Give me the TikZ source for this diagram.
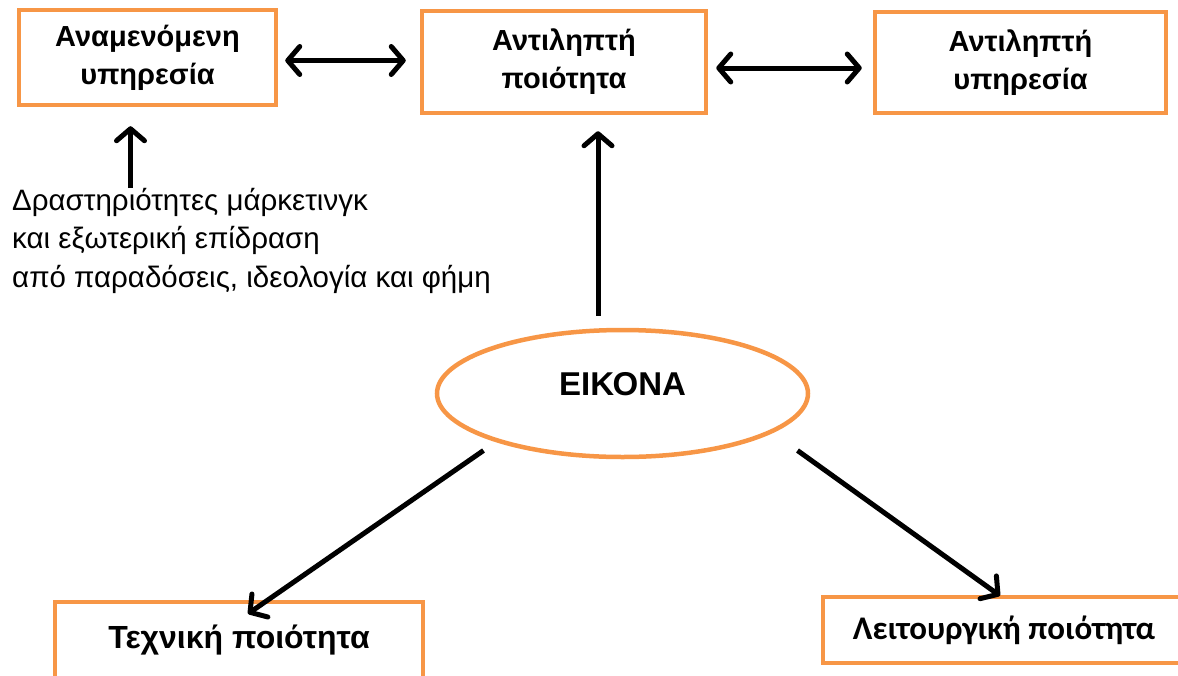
\documentclass[tikz,border=0pt]{standalone}
\usepackage{fontspec}
\setmainfont{Liberation Sans}
\newfontfamily\calfont{Carlito}
\usetikzlibrary{arrows.meta,shapes.geometric}
\definecolor{accorange}{RGB}{247,150,70}

\begin{document}
\begin{tikzpicture}[x=1pt,y=-1pt,
  qbox/.style={draw=accorange,line width=4.5pt,align=center,inner sep=0pt,
    font=\fontsize{29}{38}\selectfont\bfseries},
  arr/.style={line width=5pt,-{Straight Barb[length=12pt,width=28pt,round]}},
  dblarr/.style={line width=5pt,{Straight Barb[length=12pt,width=28pt,round]}-{Straight Barb[length=12pt,width=28pt,round]}}]
\useasboundingbox (0,0) rectangle (1178,675);
% top row
\node[qbox,minimum width=257,minimum height=95] (expect) at (147.5,57.5) {Αναμενόμενη\\υπηρεσία};
\node[qbox,minimum width=284,minimum height=102] (pqual) at (564,62) {Αντιληπτή\\ποιότητα};
\node[qbox,minimum width=291,minimum height=101] (pserv) at (1020.5,62.5) {Αντιληπτή\\υπηρεσία};
% image
\node[ellipse,draw=accorange,line width=4.5pt,minimum width=371,minimum height=127,text depth=20pt,
  font=\fontsize{33}{38}\selectfont\bfseries] (eikona) at (622.5,393.5) {ΕΙΚΟΝΑ};
% bottom row
\node[qbox,minimum width=368,minimum height=76,font=\fontsize{32}{38}\selectfont\bfseries] (tech) at (239,640) {Τεχνική ποιότητα};
\node[qbox,minimum width=362,minimum height=66,font=\calfont\fontsize{33}{38}\selectfont\bfseries] (func) at (1004,630) {Λειτουργική ποιότητα};
% marketing text
\node[anchor=north west,align=left,inner sep=0pt,font=\fontsize{29.5}{38.5}\selectfont] (mkt) at (12,188)
  {Δραστηριότητες μάρκετινγκ\\και εξωτερική επίδραση\\από παραδόσεις, ιδεολογία και φήμη};
% connectors
\draw[dblarr,shorten <=7pt,shorten >=14pt] ([yshift=-3]expect.east) -- ([yshift=-3]expect.east -| pqual.west);
\draw[dblarr,shorten <=8pt,shorten >=11pt] ([yshift=-6]pqual.east) -- ([yshift=-6]pqual.east -| pserv.west);
\draw[arr,shorten >=19pt] ([xshift=-17]expect.south |- mkt.north) -- ([xshift=-17]expect.south);
\draw[arr,shorten <=12pt,shorten >=16pt] ([xshift=34]pqual.south |- eikona.north) -- ([xshift=34]pqual.south);
\draw[arr] ([xshift=-139,yshift=-57]eikona.center) -- ([xshift=9,yshift=-14]tech.north);
\draw[arr] ([xshift=175,yshift=-57]eikona.center) -- ([xshift=-4,yshift=-1]func.north);
\end{tikzpicture}
\end{document}
